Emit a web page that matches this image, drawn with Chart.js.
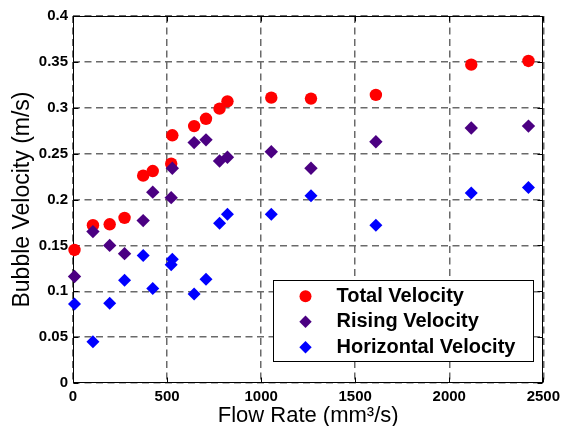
<!DOCTYPE html>
<html>
<head>
<meta charset="utf-8">
<script src="https://cdn.jsdelivr.net/npm/chart.js@4/dist/chart.umd.min.js"></script>
<style>
  html, body { margin: 0; padding: 0; background: #fff; }
  #wrap { width: 565px; height: 426px; }
</style>
</head>
<body>
<div id="wrap"><canvas id="c" width="565" height="426"></canvas></div>
<script>
// ---- data ----
const flowRate = [8, 106, 195, 274, 373, 424, 522, 528, 644, 707, 779, 821, 1054, 1265, 1610, 2117, 2421];
const totalVelocity = [0.145, 0.172, 0.173, 0.180, 0.226, 0.231, 0.239, 0.270, 0.280, 0.288, 0.299, 0.307, 0.311, 0.310, 0.314, 0.347, 0.351];
const risingVelocity = [0.116, 0.165, 0.150, 0.141, 0.177, 0.208, 0.202, 0.234, 0.262, 0.265, 0.242, 0.246, 0.252, 0.234, 0.263, 0.278, 0.280];
const horizontalVelocity = [0.086, 0.045, 0.087, 0.112, 0.139, 0.103, 0.129, 0.135, 0.097, 0.113, 0.174, 0.184, 0.184, 0.204, 0.172, 0.207, 0.213];
const seriesNames = ["Total Velocity", "Rising Velocity", "Horizontal Velocity"];
const xTickValues = [0, 500, 1000, 1500, 2000, 2500];
const xTickLabels = ["0", "500", "1000", "1500", "2000", "2500"];
const yTickValues = [0, 0.05, 0.1, 0.15, 0.2, 0.25, 0.3, 0.35, 0.4];
const yTickLabels = ["0", "0.05", "0.1", "0.15", "0.2", "0.25", "0.3", "0.35", "0.4"];
const xTitle = "Flow Rate (mm\u00B3/s)";
const yTitle = "Bubble Velocity (m/s)";

const FONT = '"Liberation Sans", Arial, sans-serif';
const pts = (ys) => flowRate.map((x, i) => ({ x: x, y: ys[i] }));

const framePlugin = {
  id: 'frame',
  beforeDatasetsDraw(chart) {
    const { ctx, chartArea: a, scales } = chart;
    ctx.save();
    ctx.strokeStyle = '#000';
    ctx.lineWidth = 1;
    const L = Math.round(a.left) + 0.5, R = Math.round(a.right) - 0.5;
    const T = Math.round(a.top) + 0.5, B = Math.round(a.bottom) - 0.5;
    ctx.strokeRect(L, T, R - L, B - T);
    const tl = 5;
    ctx.beginPath();
    scales.x.ticks.forEach(t => {
      const px = Math.round(scales.x.getPixelForValue(t.value)) + 0.5;
      ctx.moveTo(px, B); ctx.lineTo(px, B - tl);
      ctx.moveTo(px, T); ctx.lineTo(px, T + tl);
    });
    scales.y.ticks.forEach(t => {
      const py = Math.round(scales.y.getPixelForValue(t.value)) + 0.5;
      ctx.moveTo(L, py); ctx.lineTo(L + tl, py);
      ctx.moveTo(R, py); ctx.lineTo(R - tl, py);
    });
    ctx.stroke();
    ctx.restore();
  }
};

const legendPlugin = {
  id: 'boxLegend',
  afterDraw(chart) {
    const { ctx, chartArea: a } = chart;
    const ds = chart.data.datasets;
    ctx.save();
    ctx.font = 'bold 20px ' + FONT;
    const maxW = Math.max(...ds.map(d => ctx.measureText(d.label).width));
    const w = Math.round(63 + maxW + 18);
    const h = 81;
    const right = Math.round(a.right - 10) + 0.5;
    const bottom = Math.round(a.bottom - 22) + 0.5;
    const left = right - w, top = bottom - h;
    ctx.fillStyle = '#fff';
    ctx.fillRect(left, top, w, h);
    ctx.strokeStyle = '#000';
    ctx.lineWidth = 1;
    ctx.strokeRect(left, top, w, h);
    ds.forEach((d, i) => {
      const cy = top + 15.7 + i * 25.5;
      const cx = left + 32;
      ctx.fillStyle = d.backgroundColor;
      ctx.beginPath();
      if (d.pointStyle === 'circle') {
        ctx.arc(cx, cy, 6, 0, Math.PI * 2);
      } else {
        const r = 6.2;
        ctx.moveTo(cx, cy - r); ctx.lineTo(cx + r, cy); ctx.lineTo(cx, cy + r); ctx.lineTo(cx - r, cy); ctx.closePath();
      }
      ctx.fill();
      ctx.fillStyle = '#000';
      ctx.textBaseline = 'middle';
      ctx.textAlign = 'left';
      ctx.fillText(d.label, left + 63, cy);
    });
    ctx.restore();
  }
};

new Chart(document.getElementById('c'), {
  type: 'scatter',
  data: {
    datasets: [
      { label: seriesNames[0], data: pts(totalVelocity), backgroundColor: '#ff0000', borderColor: '#ff0000',
        pointStyle: 'circle', pointRadius: 6.2, pointBorderWidth: 0, order: 2, clip: false },
      { label: seriesNames[1], data: pts(risingVelocity), backgroundColor: '#4b0082', borderColor: '#4b0082',
        pointStyle: 'rectRot', pointRadius: 6.7, pointBorderWidth: 0, order: 1, clip: false },
      { label: seriesNames[2], data: pts(horizontalVelocity), backgroundColor: '#0000ff', borderColor: '#0000ff',
        pointStyle: 'rectRot', pointRadius: 6.5, pointBorderWidth: 0, order: 0, clip: false }
    ]
  },
  options: {
    responsive: false,
    animation: false,
    devicePixelRatio: 1,
    layout: { padding: { top: 16, right: 19, left: 0, bottom: 0 } },
    plugins: { legend: { display: false }, tooltip: { enabled: false } },
    scales: {
      x: {
        type: 'linear', min: 0, max: 2500,
        afterBuildTicks: s => { s.ticks = xTickValues.map(v => ({ value: v })); },
        afterFit: s => { s.height = 43; },
        ticks: {
          color: '#000', padding: 5, maxRotation: 0, autoSkip: false,
          font: { family: FONT, size: 15, weight: 'bold' },
          callback: (v) => { const i = xTickValues.indexOf(v); return i >= 0 ? xTickLabels[i] : ''; }
        },
        grid: { color: '#6a6a6a', lineWidth: 1.5, drawTicks: false },
        border: { display: false, dash: [7, 4.5] },
        title: { display: true, text: xTitle, color: '#000',
          font: { family: FONT, size: 22, weight: 'normal', lineHeight: 1 }, padding: { top: 0, bottom: -1 } }
      },
      y: {
        type: 'linear', min: 0, max: 0.4,
        afterBuildTicks: s => { s.ticks = yTickValues.map(v => ({ value: v })); },
        afterFit: s => { s.width = 73; },
        ticks: {
          color: '#000', padding: 5, autoSkip: false,
          font: { family: FONT, size: 15, weight: 'bold' },
          callback: (v) => { const i = yTickValues.findIndex(t => Math.abs(t - v) < 1e-9); return i >= 0 ? yTickLabels[i] : ''; }
        },
        grid: { color: '#6a6a6a', lineWidth: 1.5, drawTicks: false },
        border: { display: false, dash: [7, 4.5] },
        title: { display: true, text: yTitle, color: '#000',
          font: { family: FONT, size: 23, weight: 'normal', lineHeight: 1.2 }, padding: { top: 9, bottom: 0 } }
      }
    }
  },
  plugins: [framePlugin, legendPlugin]
});
</script>
</body>
</html>
